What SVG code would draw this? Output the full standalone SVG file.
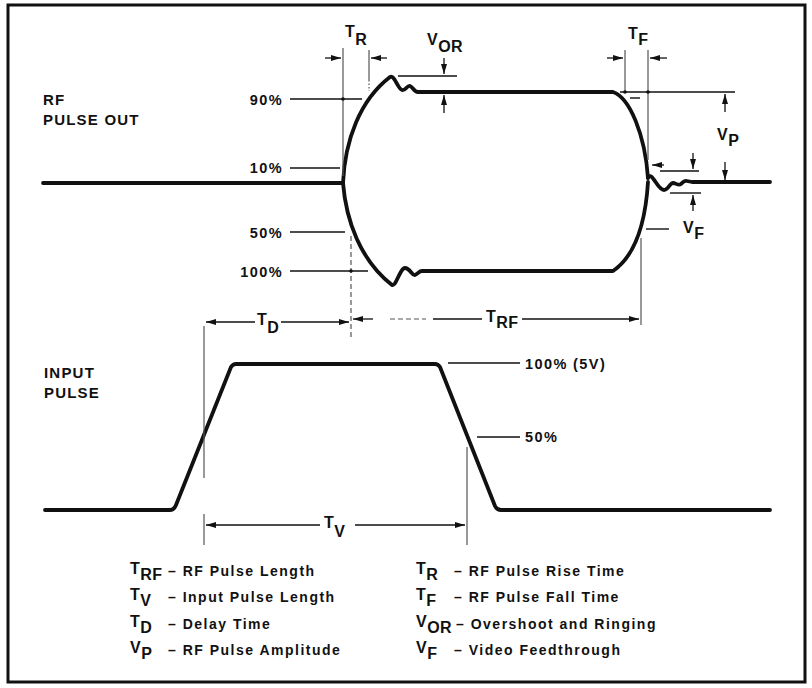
<svg xmlns="http://www.w3.org/2000/svg" width="812" height="688" viewBox="0 0 812 688">
<style>
.wave{fill:none;stroke:#111;stroke-width:3.8;stroke-linecap:round;stroke-linejoin:round}
.thin{fill:none;stroke:#111;stroke-width:1.4}
.grey{fill:none;stroke:#555;stroke-width:1.2}
.dash{fill:none;stroke:#555;stroke-width:1.2;stroke-dasharray:5 3}
.dim{fill:none;stroke:#111;stroke-width:1.3}
.lbl{font-family:"Liberation Sans",Arial,sans-serif;font-weight:bold;font-size:15px;fill:#111;letter-spacing:1.2px}
.pct{font-family:"Liberation Sans",Arial,sans-serif;font-weight:bold;font-size:14.5px;fill:#111;letter-spacing:1.4px}
.sym{font-family:"Liberation Sans",Arial,sans-serif;font-weight:bold;font-size:16px;fill:#111;letter-spacing:0.5px}
.leg{font-family:"Liberation Sans",Arial,sans-serif;font-weight:bold;font-size:14px;fill:#111;letter-spacing:1.5px}
</style>
<defs>
<marker id="ah" viewBox="0 0 10 6" refX="10" refY="3" markerWidth="10" markerHeight="6" markerUnits="userSpaceOnUse" orient="auto">
<path d="M0,0 L10,3 L0,6 z" fill="#111"/>
</marker>
</defs>
<rect x="8" y="5" width="797" height="677" fill="#fff" stroke="#111" stroke-width="3"/>

<g id="rf-pulse">
<path class="wave" d="M43,183 L343,183"/>
<path class="wave" d="M343,183 C345,140 360,100 390,77 C394,74 398,89 402,90 C406,91 407,85 410,86 C413,87 414,92 418,92 L613,92 C630,98 645,135 648,178"/>
<path class="wave" d="M343,183 C346,220 360,260 392,285 C396,287 400,268 405,268 C410,268 412,276 415,275 C418,274 419,271 422,271 L613,271 C632,258 645,230 648,182"/>
<path class="wave" d="M648,178 C652,170 657,190 664,190 C668,190 670,183 673,183 C676,183 678,186 681,184 C683,182 684,180 687,181 L692,182 L770,182"/>
</g>

<g id="input-pulse">
<path class="wave" d="M45,510 L170,510 Q174,510 176,505 L231,367 Q233,364 236,364 L435,364 Q438,364 440,367 L495,506 Q497,510 501,510 L770,510"/>
</g>

<g id="connectors">
<line class="thin" x1="290" y1="99" x2="362" y2="99"/>
<line class="thin" x1="290" y1="168" x2="340" y2="168"/>
<line class="thin" x1="290" y1="232" x2="345" y2="232"/>
<line class="thin" x1="290" y1="271" x2="368" y2="271"/>
<line class="thin" x1="448" y1="363" x2="520" y2="363"/>
<line class="thin" x1="477" y1="437" x2="520" y2="437"/>
<line class="grey" x1="343" y1="48" x2="343" y2="176"/>
<line class="grey" x1="369" y1="50" x2="369" y2="80"/>
<line class="grey" x1="369" y1="80" x2="369" y2="91" stroke-dasharray="1.5 2"/>
<line class="dash" x1="351" y1="236" x2="351" y2="338"/>
<line class="grey" x1="625" y1="50" x2="625" y2="92"/>
<line class="grey" x1="648" y1="50" x2="648" y2="160"/>
<line class="grey" x1="641" y1="238" x2="641" y2="325"/>
<line class="grey" x1="204" y1="326" x2="204" y2="478"/>
<line class="grey" x1="204" y1="514" x2="204" y2="545"/>
<line class="grey" x1="467" y1="447" x2="467" y2="545"/>
<line class="thin" x1="620" y1="92" x2="735" y2="92" stroke-width="1.2"/>
<circle cx="343" cy="99" r="1.8" fill="#111"/>
<circle cx="351" cy="271" r="1.8" fill="#111"/>
<circle cx="625" cy="92" r="1.8" fill="#111"/>
<circle cx="648" cy="92" r="1.8" fill="#111"/>
<line class="dim" x1="325" y1="58" x2="341" y2="58" marker-end="url(#ah)"/>
<line class="dim" x1="387" y1="58" x2="371" y2="58" marker-end="url(#ah)"/>
<line class="thin" x1="398" y1="76" x2="457" y2="76"/>
<line class="dim" x1="444" y1="58" x2="444" y2="74" marker-end="url(#ah)"/>
<line class="dim" x1="444" y1="113" x2="444" y2="95" marker-end="url(#ah)"/>
<line class="dim" x1="607" y1="58" x2="623" y2="58" marker-end="url(#ah)"/>
<line class="dim" x1="667" y1="58" x2="650" y2="58" marker-end="url(#ah)"/>
<line class="thin" x1="630" y1="98" x2="640" y2="98"/>
<line class="dim" x1="725" y1="112" x2="725" y2="94" marker-end="url(#ah)"/>
<line class="dim" x1="725" y1="162" x2="725" y2="180" marker-end="url(#ah)"/>
<line class="thin" x1="660" y1="171" x2="699" y2="171"/>
<line class="thin" x1="670" y1="193" x2="701" y2="193"/>
<line class="dim" x1="693" y1="153" x2="693" y2="169" marker-end="url(#ah)"/>
<line class="dim" x1="693" y1="211" x2="693" y2="195" marker-end="url(#ah)"/>
<line class="dim" x1="664" y1="165" x2="652" y2="165" marker-end="url(#ah)"/>
<line class="thin" x1="646" y1="229" x2="669" y2="229"/>
<line class="dim" x1="255" y1="322" x2="206" y2="322" marker-end="url(#ah)"/>
<line class="dim" x1="281" y1="322" x2="349" y2="322" marker-end="url(#ah)"/>
<line class="dim" x1="373" y1="319" x2="353" y2="319" marker-end="url(#ah)"/>
<line class="dash" x1="390" y1="319" x2="426" y2="319"/>
<line class="dim" x1="433" y1="319" x2="482" y2="319"/>
<line class="dim" x1="522" y1="319" x2="639" y2="319" marker-end="url(#ah)"/>
<line class="dim" x1="320" y1="525" x2="206" y2="525" marker-end="url(#ah)"/>
<line class="dim" x1="355" y1="525" x2="465" y2="525" marker-end="url(#ah)"/>
</g>

<g id="labels">
<text class="lbl" x="43" y="105">RF</text>
<text class="lbl" x="43" y="125">PULSE OUT</text>
<text class="lbl" x="44" y="378">INPUT</text>
<text class="lbl" x="44" y="398">PULSE</text>
<text class="pct" x="283" y="105" text-anchor="end">90%</text>
<text class="pct" x="283" y="173" text-anchor="end">10%</text>
<text class="pct" x="283" y="238" text-anchor="end">50%</text>
<text class="pct" x="283" y="277" text-anchor="end">100%</text>
<text class="pct" x="525" y="369">100% (5V)</text>
<text class="pct" x="525" y="442">50%</text>
<text class="sym" x="345" y="37">T<tspan dy="8">R</tspan></text>
<text class="sym" x="427" y="45">V<tspan dy="7">OR</tspan></text>
<text class="sym" x="628" y="39">T<tspan dy="6">F</tspan></text>
<text class="sym" x="717" y="140">V<tspan dy="6">P</tspan></text>
<text class="sym" x="683" y="233">V<tspan dy="6">F</tspan></text>
<text class="sym" x="257" y="325">T<tspan dy="8">D</tspan></text>
<text class="sym" x="486" y="322">T<tspan dy="6">RF</tspan></text>
<text class="sym" x="324" y="528">T<tspan dy="9">V</tspan></text>
</g>

<g id="legend">
<text class="sym" x="130" y="574">T<tspan dy="6">RF</tspan></text>
<text class="leg" x="168" y="576">– RF Pulse Length</text>
<text class="sym" x="130" y="600">T<tspan dy="6">V</tspan></text>
<text class="leg" x="168" y="602">– Input Pulse Length</text>
<text class="sym" x="130" y="627">T<tspan dy="6">D</tspan></text>
<text class="leg" x="168" y="629">– Delay Time</text>
<text class="sym" x="130" y="653">V<tspan dy="6">P</tspan></text>
<text class="leg" x="168" y="655">– RF Pulse Amplitude</text>
<text class="sym" x="416" y="574">T<tspan dy="6">R</tspan></text>
<text class="leg" x="454" y="576">– RF Pulse Rise Time</text>
<text class="sym" x="416" y="600">T<tspan dy="6">F</tspan></text>
<text class="leg" x="454" y="602">– RF Pulse Fall Time</text>
<text class="sym" x="416" y="627">V<tspan dy="6">OR</tspan></text>
<text class="leg" x="456" y="629">– Overshoot and Ringing</text>
<text class="sym" x="416" y="653">V<tspan dy="6">F</tspan></text>
<text class="leg" x="454" y="655">– Video Feedthrough</text>
</g>
</svg>
